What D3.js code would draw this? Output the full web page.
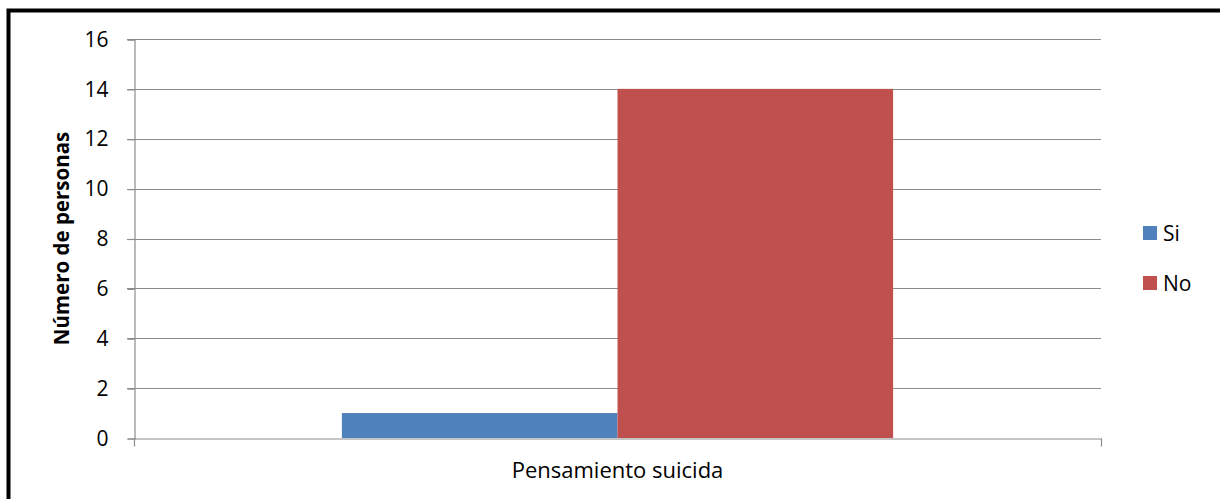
<!DOCTYPE html>
<html>
<head>
<meta charset="utf-8">
<script src="https://cdn.jsdelivr.net/npm/d3@7"></script>
<style>
  html, body { margin: 0; padding: 0; background: #fff; }
  svg { display: block; }
  text { font-family: "Open Sans", "Noto Sans", sans-serif; fill: #000; }
</style>
</head>
<body>
<svg id="chart" width="1220" height="499"></svg>
<script>
// Data
const categories = ["Pensamiento suicida"];
const seriesNames = ["Si", "No"];
const seriesValues = [[1], [14]];
const seriesColors = ["#4f81bd", "#c0504d"];
const yTicks = [0, 2, 4, 6, 8, 10, 12, 14, 16];
const yTitle = "Número de personas";

const svg = d3.select("#chart");
const W = 1220, H = 499;

// Frame
svg.append("rect").attr("x", 0).attr("y", 0).attr("width", W).attr("height", H).attr("fill", "#fff");
svg.append("rect")
  .attr("x", 8.5).attr("y", 10.5).attr("width", 1240).attr("height", 540)
  .attr("fill", "none").attr("stroke", "#000").attr("stroke-width", 4);

const plot = { left: 134, right: 1101, top: 39, bottom: 438 };

const y = d3.scaleLinear().domain([0, 16]).range([plot.bottom, plot.top]);
const x0 = d3.scaleBand().domain(categories).range([plot.left, plot.right]).paddingInner(0).paddingOuter(0);
const innerPad = 0.215; // gap share on each side of the group
const x1 = d3.scaleBand().domain(seriesNames)
  .range([x0.bandwidth() * innerPad, x0.bandwidth() * (1 - innerPad)]).padding(0);

// Gridlines
svg.append("g").selectAll("line").data(yTicks.filter(t => t > 0)).join("line")
  .attr("x1", plot.left - 7).attr("x2", plot.right)
  .attr("y1", d => Math.round(y(d)) + 0.5).attr("y2", d => Math.round(y(d)) + 0.5)
  .attr("stroke", "#8c8c8c").attr("stroke-width", 1.2);

// Bars
const groups = svg.append("g").selectAll("g").data(categories).join("g")
  .attr("transform", d => `translate(${x0(d)},0)`);
groups.selectAll("rect")
  .data((d, i) => seriesNames.map((s, j) => ({ s, v: seriesValues[j][i], c: seriesColors[j] })))
  .join("rect")
  .attr("x", d => x1(d.s)).attr("width", x1.bandwidth())
  .attr("y", d => y(d.v)).attr("height", d => y(0) - y(d.v))
  .attr("fill", d => d.c);

// Y axis
const yAxis = d3.axisLeft(y).tickValues(yTicks).tickSize(7).tickPadding(19).tickFormat(d3.format("d"));
const gy = svg.append("g").attr("transform", `translate(${plot.left + 0.5},0.5)`).call(yAxis);
gy.select(".domain").attr("stroke", "#8c8c8c").attr("stroke-width", 1.2);
gy.selectAll(".tick line").attr("stroke", "#8c8c8c").attr("stroke-width", 1.2);
gy.selectAll(".tick text").attr("font-size", 21).attr("font-family", "'Open Sans', sans-serif").attr("fill", "#000");

// X axis
const xAxis = d3.axisBottom(x0).tickSize(0).tickPadding(24);
const gx = svg.append("g").attr("transform", `translate(0,${plot.bottom + 0.5})`).call(xAxis);
gx.select(".domain").attr("stroke", "#8c8c8c").attr("stroke-width", 1.2);
gx.selectAll(".tick text").attr("font-size", 22).attr("font-family", "'Open Sans', sans-serif").attr("fill", "#000");
// Category boundary ticks
gx.append("g").selectAll("line").data([plot.left, plot.right]).join("line")
  .attr("x1", d => d + 0.5).attr("x2", d => d + 0.5).attr("y1", 0).attr("y2", 8)
  .attr("stroke", "#8c8c8c").attr("stroke-width", 1.2);

// Y axis title
svg.append("text")
  .attr("transform", `translate(69,${(plot.top + plot.bottom) / 2}) rotate(-90)`)
  .attr("text-anchor", "middle")
  .attr("font-size", 20.5).attr("font-weight", "bold")
  .text(yTitle);

// Legend
const legend = svg.append("g").selectAll("g").data(seriesNames).join("g")
  .attr("transform", (d, i) => `translate(1143,${226 + i * 50})`);
legend.append("rect").attr("width", 14).attr("height", 14).attr("fill", (d, i) => seriesColors[i]);
legend.append("text").attr("x", 20).attr("y", 7).attr("dy", "0.36em")
  .attr("font-size", 21).text(d => d);
</script>
</body>
</html>
